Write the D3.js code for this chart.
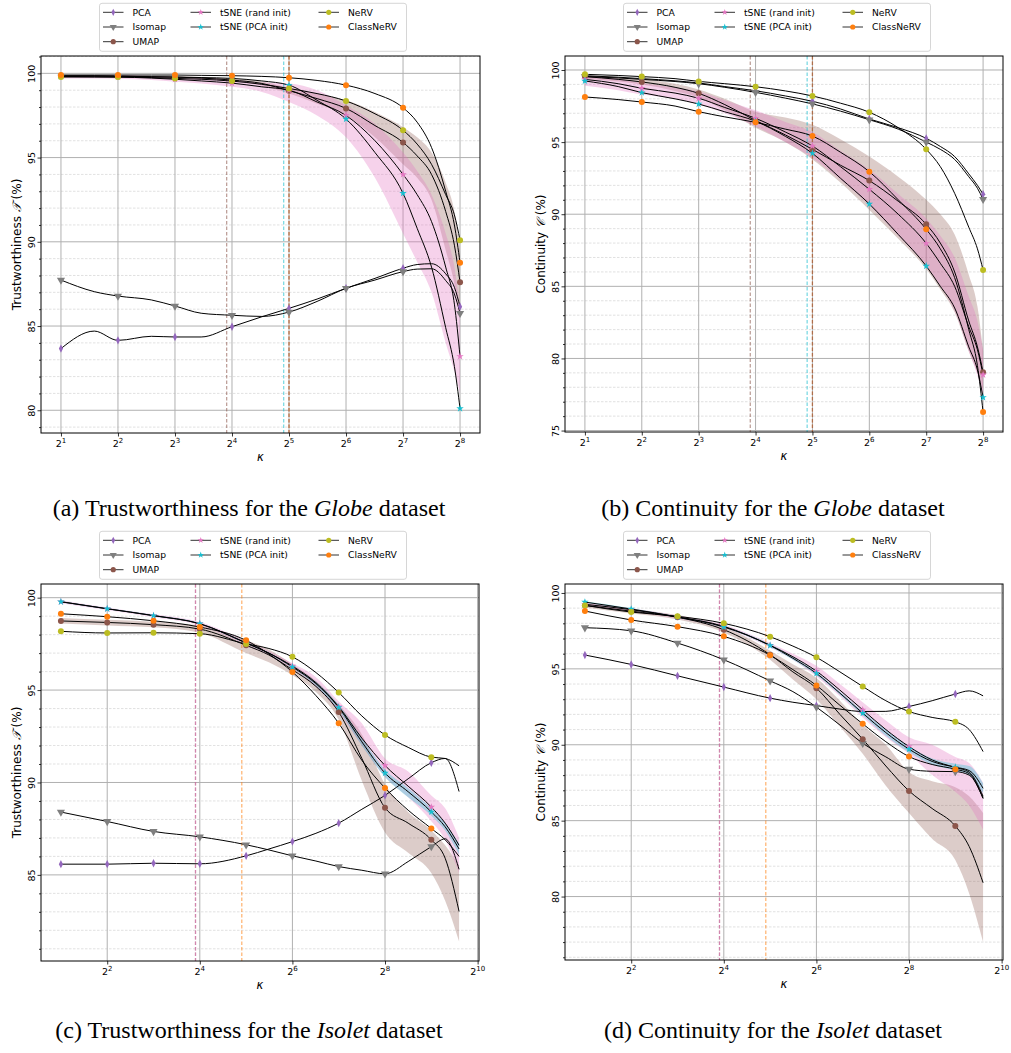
<!DOCTYPE html>
<html><head><meta charset="utf-8">
<script src="https://cdn.jsdelivr.net/npm/d3@7"></script>
<style>
body{margin:0;background:#fff}
svg{display:block}
text{font-family:"DejaVu Sans",sans-serif;fill:#000}
.cap{font-family:"Liberation Serif","Times New Roman",serif;font-size:24px}
</style></head><body>
<svg width="1011" height="1053"></svg>
<script>
// methods and their colours (matplotlib tab10)
const methods = ["PCA", "Isomap", "UMAP", "tSNE (rand init)", "tSNE (PCA init)", "NeRV", "ClassNeRV"];
const colors = ["#9467bd", "#7f7f7f", "#8c564b", "#e377c2", "#17becf", "#bcbd22", "#ff7f0e"];

// neighbourhood sizes K
const kGlobe = [2, 3, 4, 6, 8, 11, 16, 23, 32, 45, 64, 91, 128, 152, 181, 215, 239, 256];
const kIsolet = [2, 4, 8, 16, 32, 45, 64, 91, 128, 181, 256, 362, 512, 630, 776];

// (a) trustworthiness, Globe
const tgPCA = [83.66, 84.7, 84.15, 84.39, 84.35, 84.35, 84.96, 85.55, 86.05, 86.6, 87.24, 87.83, 88.43, 88.65, 88.7, 88.1, 87.3, 86.15];
const tgIsomap = [87.73, 87.04, 86.78, 86.55, 86.19, 85.76, 85.64, 85.57, 85.83, 86.46, 87.24, 87.73, 88.23, 88.38, 88.4, 87.7, 86.9, 85.76];
const tgUMAP = [99.85, 99.85, 99.83, 99.8, 99.78, 99.72, 99.6, 99.4, 98.97, 98.5, 97.92, 96.9, 95.9, 95.1, 94.0, 91.8, 89.8, 87.6];
const tgTsneR = [99.82, 99.8, 99.78, 99.72, 99.65, 99.55, 99.42, 99.2, 99.0, 98.3, 97.5, 96.0, 94.0, 92.8, 91.2, 88.5, 86.3, 83.2];
const tgTsneP = [99.85, 99.85, 99.83, 99.8, 99.78, 99.75, 99.7, 99.55, 99.3, 98.4, 97.29, 95.3, 92.88, 90.8, 88.5, 84.9, 82.6, 80.1];
const tgNeRV = [99.78, 99.78, 99.78, 99.75, 99.7, 99.65, 99.54, 99.35, 99.1, 98.8, 98.36, 97.6, 96.62, 95.8, 94.6, 92.8, 91.6, 90.09];
const tgClass = [99.9, 99.9, 99.9, 99.9, 99.9, 99.88, 99.86, 99.82, 99.74, 99.58, 99.3, 98.8, 97.96, 97.1, 95.6, 93.0, 91.0, 88.76];
const tgTsneRLo = [99.7, 99.7, 99.68, 99.6, 99.5, 99.4, 99.2, 98.9, 98.3, 97.5, 96.2, 93.8, 90.5, 88.8, 87.0, 84.0, 82.3, 81.0];
const tgTsneRHi = [99.9, 99.9, 99.88, 99.84, 99.8, 99.72, 99.64, 99.45, 99.4, 99.0, 98.1, 97.0, 95.3, 94.2, 92.8, 90.5, 88.5, 86.0];
const tgUMAPLo = [99.8, 99.8, 99.78, 99.75, 99.72, 99.65, 99.52, 99.28, 98.8, 98.2, 97.5, 96.2, 94.6, 93.8, 92.5, 89.5, 87.5, 85.5];
const tgUMAPHi = [99.9, 99.9, 99.88, 99.85, 99.83, 99.78, 99.68, 99.52, 99.15, 98.8, 98.4, 97.7, 96.8, 96.2, 95.3, 93.5, 91.8, 89.5];

// (b) continuity, Globe
const cgPCA = [99.6, 99.5, 99.4, 99.25, 99.1, 98.85, 98.56, 98.2, 97.83, 97.3, 96.6, 96.0, 95.26, 94.7, 94.0, 92.8, 92.0, 91.38];
const cgIsomap = [99.55, 99.45, 99.35, 99.2, 99.05, 98.8, 98.45, 98.05, 97.65, 97.15, 96.55, 95.9, 95.0, 94.5, 93.8, 92.6, 91.8, 91.03];
const cgUMAP = [99.54, 99.35, 99.17, 98.8, 98.38, 97.6, 96.5, 95.5, 94.5, 93.4, 92.33, 90.9, 89.3, 88.0, 86.0, 82.6, 80.8, 79.04];
const cgTsneR = [99.35, 99.05, 98.73, 98.4, 98.04, 97.4, 96.65, 95.7, 94.73, 93.3, 91.73, 90.0, 87.98, 86.6, 85.0, 82.2, 80.6, 78.87];
const cgTsneP = [99.24, 98.85, 98.43, 98.0, 97.64, 97.1, 96.45, 95.4, 94.22, 92.5, 90.71, 88.6, 86.41, 85.0, 83.5, 80.8, 79.2, 77.3];
const cgNeRV = [99.7, 99.62, 99.54, 99.4, 99.21, 99.05, 98.84, 98.55, 98.2, 97.7, 97.07, 96.0, 94.5, 93.3, 91.45, 89.1, 87.6, 86.13];
const cgClass = [98.13, 97.95, 97.78, 97.5, 97.11, 96.75, 96.37, 95.9, 95.42, 94.3, 92.95, 91.0, 88.95, 87.6, 85.6, 82.0, 79.5, 76.28];
const cgTsneRLo = [98.9, 98.6, 98.3, 98.0, 97.6, 97.0, 96.1, 95.0, 93.9, 92.4, 90.6, 88.5, 86.4, 85.0, 83.3, 80.5, 78.8, 77.3];
const cgTsneRHi = [99.6, 99.4, 99.1, 98.8, 98.5, 97.9, 97.2, 96.4, 95.7, 94.4, 93.1, 91.4, 89.7, 88.5, 87.0, 84.3, 82.6, 80.6];
const cgUMAPLo = [99.4, 99.2, 99.0, 98.55, 98.1, 97.2, 96.0, 95.0, 93.8, 92.2, 90.3, 88.3, 86.2, 84.8, 83.2, 80.5, 79.0, 77.8];
const cgUMAPHi = [99.65, 99.5, 99.35, 99.05, 98.65, 98.0, 97.1, 96.7, 96.2, 95.2, 94.0, 92.6, 91.0, 90.0, 88.6, 85.8, 83.6, 80.5];

// (c) trustworthiness, Isolet
const tiPCA = [85.58, 85.58, 85.63, 85.6, 86.03, 86.4, 86.8, 87.25, 87.8, 88.55, 89.3, 90.2, 91.07, 91.3, 89.51];
const tiIsomap = [88.4, 87.89, 87.35, 87.06, 86.63, 86.35, 86.03, 85.75, 85.45, 85.25, 85.06, 85.72, 86.53, 86.95, 85.3];
const tiUMAP = [98.74, 98.66, 98.54, 98.3, 97.42, 96.9, 96.1, 95.2, 93.81, 91.3, 88.63, 87.8, 86.9, 85.9, 83.02];
const tiTsneR = [99.78, 99.4, 99.03, 98.59, 97.55, 97.0, 96.3, 95.4, 94.1, 92.4, 90.92, 89.8, 88.67, 87.8, 86.6];
const tiTsneP = [99.78, 99.4, 99.03, 98.59, 97.55, 97.0, 96.25, 95.35, 94.06, 92.2, 90.51, 89.5, 88.41, 87.6, 86.4];
const tiNeRV = [98.18, 98.09, 98.1, 98.05, 97.5, 97.25, 96.8, 95.95, 94.87, 93.6, 92.57, 91.9, 91.37, 91.3, 90.9];
const tiClass = [99.13, 98.97, 98.75, 98.41, 97.69, 96.95, 95.98, 94.7, 93.21, 91.2, 89.7, 88.5, 87.51, 86.9, 86.0];
const tiUMAPLo = [98.6, 98.5, 98.4, 98.1, 97.0, 96.5, 95.8, 94.9, 93.4, 90.1, 87.3, 86.2, 85.1, 83.6, 81.4];
const tiUMAPHi = [98.9, 98.8, 98.7, 98.5, 97.7, 97.2, 96.4, 95.5, 94.2, 92.6, 89.9, 88.4, 87.4, 86.6, 85.5];
const tiTsneRLo = [99.7, 99.33, 98.95, 98.5, 97.45, 96.9, 96.15, 95.2, 93.8, 92.0, 90.3, 89.2, 87.9, 86.9, 85.1];
const tiTsneRHi = [99.86, 99.47, 99.1, 98.68, 97.65, 97.1, 96.45, 95.7, 94.4, 93.2, 91.3, 90.6, 89.3, 88.6, 87.0];
const tiTsnePLo = [99.74, 99.36, 98.99, 98.55, 97.5, 96.95, 96.2, 95.25, 93.9, 92.0, 90.3, 89.2, 88.2, 87.4, 86.1];
const tiTsnePHi = [99.82, 99.44, 99.07, 98.63, 97.6, 97.05, 96.3, 95.45, 94.2, 92.4, 90.7, 89.7, 88.6, 87.8, 86.7];

// (d) continuity, Isolet
const ciPCA = [95.91, 95.29, 94.54, 93.8, 93.07, 92.8, 92.58, 92.35, 92.19, 92.2, 92.52, 92.9, 93.34, 93.55, 93.22];
const ciIsomap = [97.71, 97.51, 96.7, 95.6, 94.21, 93.5, 92.48, 91.3, 90.1, 89.2, 88.39, 88.25, 88.23, 88.0, 86.47];
const ciUMAP = [99.18, 98.8, 98.4, 97.58, 95.93, 94.8, 93.73, 92.0, 90.37, 88.6, 86.96, 85.8, 84.65, 83.3, 80.91];
const ciTsneR = [99.25, 98.9, 98.42, 97.8, 96.55, 95.8, 94.85, 93.6, 92.3, 91.0, 89.88, 89.0, 88.5, 88.2, 86.6];
const ciTsneP = [99.4, 98.94, 98.42, 97.76, 96.54, 95.7, 94.7, 93.4, 92.08, 90.8, 89.71, 88.9, 88.52, 88.3, 87.13];
const ciNeRV = [99.18, 98.74, 98.46, 98.0, 97.12, 96.5, 95.76, 94.8, 93.84, 92.9, 92.19, 91.8, 91.51, 91.0, 89.55];
const ciClass = [98.81, 98.22, 97.78, 97.14, 95.9, 94.95, 93.91, 92.6, 91.38, 90.2, 89.22, 88.7, 88.39, 88.1, 86.47];
const ciUMAPLo = [99.05, 98.65, 98.25, 97.4, 95.6, 94.3, 93.0, 91.2, 89.4, 87.3, 85.5, 83.8, 82.4, 80.2, 77.0];
const ciUMAPHi = [99.3, 98.95, 98.55, 97.8, 96.2, 95.3, 94.4, 92.9, 91.3, 90.0, 88.2, 87.6, 87.2, 86.6, 85.5];
const ciTsneRLo = [99.15, 98.8, 98.32, 97.7, 96.4, 95.6, 94.5, 93.2, 91.8, 90.5, 89.4, 88.0, 86.9, 86.0, 84.4];
const ciTsneRHi = [99.35, 99.0, 98.52, 97.9, 96.7, 96.0, 95.2, 94.0, 92.8, 91.6, 90.5, 90.0, 89.2, 88.8, 87.5];
const ciTsnePLo = [99.35, 98.88, 98.36, 97.7, 96.45, 95.6, 94.6, 93.3, 91.95, 90.6, 89.5, 88.7, 88.3, 88.0, 86.8];
const ciTsnePHi = [99.45, 99.0, 98.48, 97.82, 96.63, 95.8, 94.8, 93.5, 92.2, 91.0, 89.9, 89.1, 88.75, 88.6, 87.45];

// best K per method (dashed lines): [K, method index]
const bestGlobeT = [[15, 2], [30, 4], [32, 6], [32, 2]];
const bestGlobeC = [[15, 2], [30, 4], [32, 6], [32, 2]];
const bestIsoletT = [[15, 2], [15, 3], [30, 6]];
const bestIsoletC = [[15, 2], [15, 3], [30, 6]];

const svg = d3.select("svg");

function marker(g, m, px, py, r) {
  const c = colors[m];
  if (m === 0) {
    g.append("path").attr("d", `M${px},${py - r * 1.4}L${px + r * 0.7},${py}L${px},${py + r * 1.4}L${px - r * 0.7},${py}Z`).attr("fill", c);
  } else if (m === 1) {
    g.append("path").attr("d", d3.symbol(d3.symbolTriangle, r * r * 3.2)()).attr("transform", `translate(${px},${py}) rotate(180)`).attr("fill", c);
  } else if (m === 3 || m === 4) {
    g.append("path").attr("d", d3.symbol(d3.symbolStar, r * r * 1.9)()).attr("transform", `translate(${px},${py})`).attr("fill", c);
  } else {
    g.append("circle").attr("cx", px).attr("cy", py).attr("r", r).attr("fill", c);
  }
}

function panel(cfg) {
  const [L, T, R, B] = cfg.box;
  const x = d3.scaleLog().base(2).domain(cfg.xDom).range([L, R]);
  const y = d3.scaleLinear().domain(cfg.yDom).range([B, T]);
  const g = svg.append("g");
  const clipId = "clip" + cfg.id;
  g.append("clipPath").attr("id", clipId).append("rect").attr("x", L).attr("y", T).attr("width", R - L).attr("height", B - T);

  // grid
  const yMinor = d3.range(Math.ceil(cfg.yDom[0]), Math.floor(cfg.yDom[1]) + 1);
  const yMajor = yMinor.filter(v => v % 5 === 0);
  g.append("g").selectAll("line").data(yMinor.filter(v => v % 5 !== 0)).join("line")
    .attr("x1", L).attr("x2", R).attr("y1", d => y(d)).attr("y2", d => y(d))
    .attr("stroke", "#d9d9d9").attr("stroke-width", 0.8).attr("stroke-dasharray", "2.5,1.5");
  g.append("g").selectAll("line").data(yMajor).join("line")
    .attr("x1", L).attr("x2", R).attr("y1", d => y(d)).attr("y2", d => y(d))
    .attr("stroke", "#b0b0b0").attr("stroke-width", 1);
  g.append("g").selectAll("line").data(cfg.xTicks).join("line")
    .attr("x1", d => x(2 ** d)).attr("x2", d => x(2 ** d)).attr("y1", T).attr("y2", B)
    .attr("stroke", "#b0b0b0").attr("stroke-width", 1);

  const plot = g.append("g").attr("clip-path", `url(#${clipId})`);
  const idx = d3.range(cfg.k.length);

  // bands
  cfg.bands.forEach(bd => {
    const area = d3.area().curve(d3.curveMonotoneX)
      .x(i => x(cfg.k[i])).y0(i => y(bd.lo[i])).y1(i => y(bd.hi[i]));
    plot.append("path").attr("d", area(idx)).attr("fill", colors[bd.m]).attr("fill-opacity", bd.m === 2 ? 0.3 : 0.33);
  });

  // dashed best-K lines
  cfg.best.forEach(([kk, m]) => {
    plot.append("line").attr("x1", x(kk)).attr("x2", x(kk)).attr("y1", T).attr("y2", B)
      .attr("stroke", colors[m]).attr("stroke-width", 1.2).attr("stroke-dasharray", "3.5,2").attr("opacity", 0.6);
  });

  // lines
  const line = d3.line().curve(d3.curveMonotoneX);
  cfg.series.forEach(vals => {
    plot.append("path").attr("d", line(idx.map(i => [x(cfg.k[i]), y(vals[i])])))
      .attr("fill", "none").attr("stroke", "#000").attr("stroke-width", 1);
  });

  // markers at powers of two
  const mg = plot.append("g");
  cfg.series.forEach((vals, m) => {
    idx.forEach(i => {
      const l = Math.log2(cfg.k[i]);
      if (Math.abs(l - Math.round(l)) < 1e-9) marker(mg, m, x(cfg.k[i]), y(vals[i]), 3);
    });
  });

  // axes
  const yAx = g.append("g").attr("transform", `translate(${L},0)`)
    .call(d3.axisLeft(y).tickValues(yMajor).tickSize(3.5).tickFormat(d3.format("d")));
  yAx.selectAll("text").attr("x", 0).attr("y", -6.5).attr("dy", 0).attr("text-anchor", "middle")
    .attr("transform", "rotate(-90)").style("font-size", "9.5px").style("font-family", "DejaVu Sans");
  g.append("g").attr("transform", `translate(${L},0)`)
    .call(d3.axisLeft(y).tickValues(yMinor.filter(v => v % 5 !== 0)).tickSize(2).tickFormat(""));
  g.append("g").attr("transform", `translate(0,${B})`)
    .call(d3.axisBottom(x).tickValues(cfg.xTicks.map(d => 2 ** d)).tickSize(3.5).tickFormat(""));
  g.selectAll(".domain").remove();
  g.selectAll(".tick line").attr("stroke", "#000").attr("stroke-width", 0.8);

  cfg.xTicks.forEach(e => {
    const t = g.append("text").attr("x", x(2 ** e)).attr("y", B + 14).attr("text-anchor", "middle").style("font-size", "9.5px");
    t.append("tspan").text("2");
    t.append("tspan").attr("dy", -4).style("font-size", "7px").text(e);
  });
  g.append("rect").attr("x", L).attr("y", T).attr("width", R - L).attr("height", B - T)
    .attr("fill", "none").attr("stroke", "#000").attr("stroke-width", 1);

  // labels
  g.append("text").attr("x", (L + R) / 2).attr("y", B + 28).attr("text-anchor", "middle")
    .style("font-size", "11.5px").style("font-style", "italic").text("κ");
  const yl = g.append("text").attr("transform", `translate(${L - 20},${(T + B) / 2}) rotate(-90)`)
    .attr("text-anchor", "middle").style("font-size", "12px");
  yl.append("tspan").text(cfg.ylabel[0]);
  yl.append("tspan").style("font-style", "italic").style("font-family", "DejaVu Serif").text(cfg.ylabel[1]);
  yl.append("tspan").text(cfg.ylabel[2]);

  // legend
  const lx = L + 58.5, ly = T - 52.7;
  const lg = g.append("g");
  lg.append("rect").attr("x", lx).attr("y", ly).attr("width", 307).attr("height", 48).attr("rx", 2.5)
    .attr("fill", "#fff").attr("fill-opacity", 0.8).attr("stroke", "#cccccc").attr("stroke-width", 0.8);
  const cols = [[0, 1, 2], [3, 4], [5, 6]];
  const colX = [3.5, 91, 219];
  cols.forEach((ms, ci) => ms.forEach((m, ri) => {
    const ex = lx + colX[ci], ey = ly + 9 + ri * 14.7;
    lg.append("line").attr("x1", ex).attr("x2", ex + 20.5).attr("y1", ey).attr("y2", ey).attr("stroke", "#333").attr("stroke-width", 1);
    marker(lg, m, ex + 10.25, ey, 2.6);
    lg.append("text").attr("x", ex + 29.5).attr("y", ey + 3.3).style("font-size", "9.2px").text(methods[m]);
  }));

  // caption
  const cap = svg.append("text").attr("class", "cap").attr("x", cfg.capX).attr("y", cfg.capY).attr("text-anchor", "middle");
  cap.append("tspan").text(cfg.caption[0]);
  cap.append("tspan").style("font-style", "italic").text(cfg.caption[1]);
  cap.append("tspan").text(cfg.caption[2]);
}

panel({
  id: "a", box: [41, 56, 480, 433], k: kGlobe, xDom: [2 ** 0.65, 2 ** 8.35], yDom: [78.65, 101.03],
  xTicks: [1, 2, 3, 4, 5, 6, 7, 8],
  series: [tgPCA, tgIsomap, tgUMAP, tgTsneR, tgTsneP, tgNeRV, tgClass],
  bands: [{ m: 2, lo: tgUMAPLo, hi: tgUMAPHi }, { m: 3, lo: tgTsneRLo, hi: tgTsneRHi }],
  best: bestGlobeT, ylabel: ["Trustworthiness ", "𝒯", " (%)"],
  caption: ["(a) Trustworthiness for the ", "Globe", " dataset"], capX: 249, capY: 516
});
panel({
  id: "b", box: [565, 56, 1003, 432], k: kGlobe, xDom: [2 ** 0.65, 2 ** 8.35], yDom: [74.9, 100.97],
  xTicks: [1, 2, 3, 4, 5, 6, 7, 8],
  series: [cgPCA, cgIsomap, cgUMAP, cgTsneR, cgTsneP, cgNeRV, cgClass],
  bands: [{ m: 2, lo: cgUMAPLo, hi: cgUMAPHi }, { m: 3, lo: cgTsneRLo, hi: cgTsneRHi }],
  best: bestGlobeC, ylabel: ["Continuity ", "𝒞", " (%)"],
  caption: ["(b) Continuity for the ", "Globe", " dataset"], capX: 773, capY: 516
});
panel({
  id: "c", box: [41, 584, 479, 961], k: kIsolet, xDom: [2 ** 0.57, 2 ** 10.03], yDom: [80.34, 100.74],
  xTicks: [2, 4, 6, 8, 10],
  series: [tiPCA, tiIsomap, tiUMAP, tiTsneR, tiTsneP, tiNeRV, tiClass],
  bands: [{ m: 2, lo: tiUMAPLo, hi: tiUMAPHi }, { m: 3, lo: tiTsneRLo, hi: tiTsneRHi }, { m: 4, lo: tiTsnePLo, hi: tiTsnePHi }],
  best: bestIsoletT, ylabel: ["Trustworthiness ", "𝒯", " (%)"],
  caption: ["(c) Trustworthiness for the ", "Isolet", " dataset"], capX: 249, capY: 1038
});
panel({
  id: "d", box: [565, 584, 1003, 960], k: kIsolet, xDom: [2 ** 0.57, 2 ** 10.03], yDom: [75.82, 100.59],
  xTicks: [2, 4, 6, 8, 10],
  series: [ciPCA, ciIsomap, ciUMAP, ciTsneR, ciTsneP, ciNeRV, ciClass],
  bands: [{ m: 2, lo: ciUMAPLo, hi: ciUMAPHi }, { m: 3, lo: ciTsneRLo, hi: ciTsneRHi }, { m: 4, lo: ciTsnePLo, hi: ciTsnePHi }],
  best: bestIsoletC, ylabel: ["Continuity ", "𝒞", " (%)"],
  caption: ["(d) Continuity for the ", "Isolet", " dataset"], capX: 773, capY: 1038
});
</script>
</body></html>
